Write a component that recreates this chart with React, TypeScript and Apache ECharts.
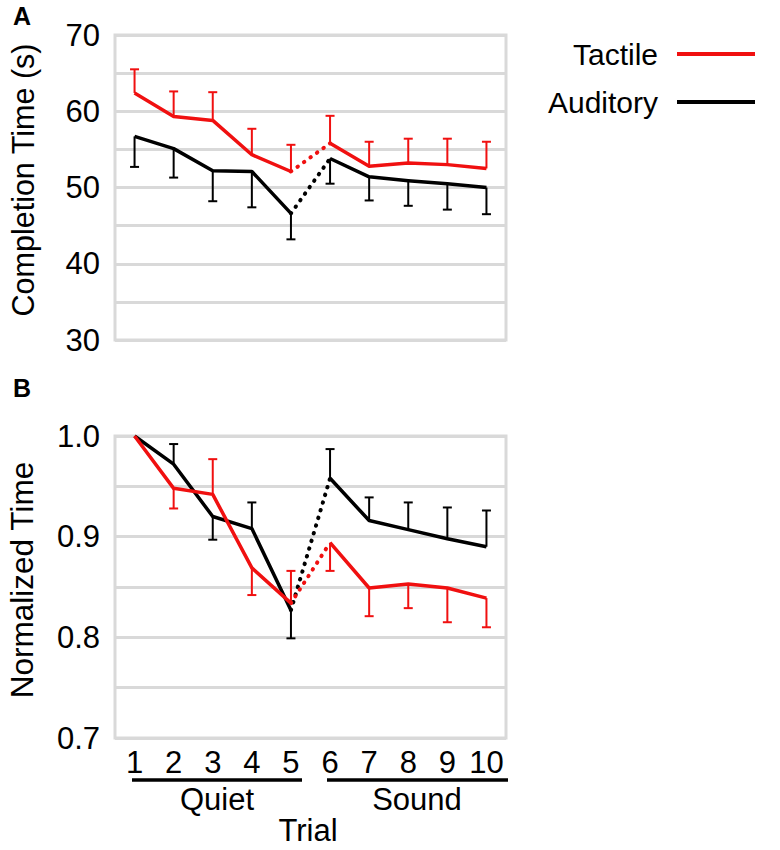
import React, { useEffect, useRef } from "react";
import * as echarts from "echarts";

const trials = ["1", "2", "3", "4", "5", "6", "7", "8", "9", "10"];

// Panel A: completion time (s)
const tactileA = [62.4, 59.3, 58.8, 54.3, 52.1, 55.8, 52.8, 53.2, 53.0, 52.5];
const tactileAErr = [65.5, 62.6, 62.5, 57.7, 55.6, 59.4, 56.0, 56.4, 56.4, 56.0];
const auditoryA = [56.7, 55.1, 52.2, 52.1, 46.6, 53.8, 51.4, 50.9, 50.5, 50.0];
const auditoryAErr = [52.7, 51.3, 48.2, 47.4, 43.2, 50.5, 48.3, 47.6, 47.1, 46.5];

// Panel B: normalized time
const tactileB = [1.0, 0.948, 0.942, 0.869, 0.834, 0.894, 0.849, 0.853, 0.849, 0.839];
const tactileBErr = [null, 0.928, 0.977, 0.842, 0.866, 0.866, 0.821, 0.829, 0.815, 0.81];
const auditoryB = [1.0, 0.972, 0.92, 0.908, 0.827, 0.958, 0.916, 0.907, 0.898, 0.89];
const auditoryBErr = [null, 0.992, 0.897, 0.934, 0.799, 0.987, 0.939, 0.934, 0.929, 0.926];

const yTicksA = [30, 40, 50, 60, 70];
const yTicksB = ["0.7", "0.8", "0.9", "1.0"];

const RED = "#f01010";
const BLACK = "#000000";
const GRID = "#d9d9d9";
const FONT = "'Liberation Sans', Arial, sans-serif";

function seg(values: (number | null)[], part: "pre" | "post" | "gap") {
  return values.map((v, i) => {
    if (part === "pre") return i <= 4 ? v : null;
    if (part === "post") return i >= 5 ? v : null;
    return i === 4 || i === 5 ? v : null;
  });
}

function lineSeries(name: string, values: number[], color: string, idx: number, z: number) {
  const common = {
    type: "line",
    xAxisIndex: idx,
    yAxisIndex: idx,
    symbol: "none",
    z,
    color,
    itemStyle: { color },
  };
  return [
    { ...common, name, data: seg(values, "pre"), lineStyle: { color, width: 3.5, join: "round" } },
    { ...common, name, data: seg(values, "post"), lineStyle: { color, width: 3.5, join: "round" } },
    {
      ...common,
      name: name + " (transition)",
      data: seg(values, "gap"),
      lineStyle: { color, width: 4, type: [0.5, 7.5], cap: "round" },
    },
  ];
}

function errSeries(values: number[], errs: (number | null)[], color: string, idx: number, z: number) {
  const data = values
    .map((v, i) => (errs[i] == null ? null : [i, v, errs[i]]))
    .filter((d) => d !== null);
  return {
    type: "custom",
    name: "error",
    xAxisIndex: idx,
    yAxisIndex: idx,
    z,
    silent: true,
    encode: { x: 0, y: [1, 2] },
    data,
    renderItem: (params: any, api: any) => {
      const x = api.value(0);
      const p0 = api.coord([x, api.value(1)]);
      const p1 = api.coord([x, api.value(2)]);
      const hw = 4.5;
      return {
        type: "group",
        children: [
          { type: "line", shape: { x1: p0[0], y1: p0[1], x2: p1[0], y2: p1[1] }, style: { stroke: color, lineWidth: 2 } },
          { type: "line", shape: { x1: p1[0] - hw, y1: p1[1], x2: p1[0] + hw, y2: p1[1] }, style: { stroke: color, lineWidth: 2 } },
        ],
      };
    },
  };
}

export default function App() {
  const ref = useRef<HTMLDivElement>(null);

  useEffect(() => {
    document.body.style.margin = "0";
    if (!ref.current) return;
    const chart = echarts.init(ref.current, undefined, { renderer: "svg" });

    const yAxisBase = {
      type: "value",
      axisLine: { show: false },
      axisTick: { show: false },
      splitLine: { show: true, lineStyle: { color: GRID, width: 3 } },
    };

    const option: any = {
      animation: false,
      backgroundColor: "#ffffff",
      textStyle: { fontFamily: FONT },
      grid: [
        { left: 115, top: 35, width: 391, height: 305, show: true, borderColor: GRID, borderWidth: 3 },
        { left: 115, top: 436, width: 391, height: 302, show: true, borderColor: GRID, borderWidth: 3 },
      ],
      xAxis: [
        {
          type: "category",
          gridIndex: 0,
          data: trials,
          axisLine: { show: false },
          axisTick: { show: false },
          axisLabel: { show: false },
        },
        {
          type: "category",
          gridIndex: 1,
          data: trials,
          axisLine: { show: false },
          axisTick: { show: false },
          axisLabel: { show: true, interval: 0, fontSize: 31, color: "#000", margin: 9, fontFamily: FONT },
        },
      ],
      yAxis: [
        {
          ...yAxisBase,
          gridIndex: 0,
          min: 30,
          max: 70,
          interval: 5,
          axisLabel: {
            fontSize: 31,
            color: "#000",
            margin: 15,
            fontFamily: FONT,
            formatter: (v: number) => (yTicksA.indexOf(Math.round(v)) >= 0 && Math.abs(v - Math.round(v)) < 1e-6 ? String(Math.round(v)) : ""),
          },
        },
        {
          ...yAxisBase,
          gridIndex: 1,
          min: 0.7,
          max: 1.0,
          interval: 0.05,
          axisLabel: {
            fontSize: 31,
            color: "#000",
            margin: 15,
            fontFamily: FONT,
            formatter: (v: number) => {
              const s = v.toFixed(2);
              return s.endsWith("0") && yTicksB.indexOf(v.toFixed(1)) >= 0 ? v.toFixed(1) : "";
            },
          },
        },
      ],
      legend: {
        data: ["Tactile", "Auditory"],
        orient: "vertical",
        align: "right",
        right: 25,
        top: 39,
        padding: 0,
        itemWidth: 78,
        itemHeight: 4,
        itemGap: 18,
        icon: "rect",
        selectedMode: false,
        textStyle: { fontSize: 30, lineHeight: 30, color: "#000", fontFamily: FONT, padding: [0, 14, 0, 0] },
      },
      graphic: [
        { type: "text", x: 22, y: 16, style: { text: "A", font: `bold 25px ${FONT}`, fill: "#000", align: "center", verticalAlign: "middle" } },
        { type: "text", x: 22, y: 388, style: { text: "B", font: `bold 25px ${FONT}`, fill: "#000", align: "center", verticalAlign: "middle" } },
        {
          type: "text",
          x: 23,
          y: 180,
          rotation: Math.PI / 2,
          style: { text: "Completion Time (s)", font: `30.5px ${FONT}`, fill: "#000", align: "center", verticalAlign: "middle" },
        },
        {
          type: "text",
          x: 22,
          y: 580,
          rotation: Math.PI / 2,
          style: { text: "Normalized Time", font: `31.5px ${FONT}`, fill: "#000", align: "center", verticalAlign: "middle" },
        },
        { type: "line", shape: { x1: 132, y1: 780, x2: 302, y2: 780 }, style: { stroke: "#000", lineWidth: 3.5 } },
        { type: "line", shape: { x1: 327, y1: 780, x2: 508, y2: 780 }, style: { stroke: "#000", lineWidth: 3.5 } },
        { type: "text", x: 217, y: 799, style: { text: "Quiet", font: `31px ${FONT}`, fill: "#000", align: "center", verticalAlign: "middle" } },
        { type: "text", x: 417, y: 799, style: { text: "Sound", font: `31px ${FONT}`, fill: "#000", align: "center", verticalAlign: "middle" } },
        { type: "text", x: 308, y: 830, style: { text: "Trial", font: `31px ${FONT}`, fill: "#000", align: "center", verticalAlign: "middle" } },
      ],
      series: [
        errSeries(auditoryA, auditoryAErr, BLACK, 0, 2),
        errSeries(tactileA, tactileAErr, RED, 0, 2),
        ...lineSeries("Auditory", auditoryA, BLACK, 0, 3),
        ...lineSeries("Tactile", tactileA, RED, 0, 4),
        errSeries(auditoryB, auditoryBErr, BLACK, 1, 2),
        errSeries(tactileB, tactileBErr, RED, 1, 2),
        ...lineSeries("Auditory", auditoryB, BLACK, 1, 3),
        ...lineSeries("Tactile", tactileB, RED, 1, 4),
      ],
    };

    chart.setOption(option);
    return () => chart.dispose();
  }, []);

  return <div ref={ref} style={{ width: 780, height: 850 }} />;
}
